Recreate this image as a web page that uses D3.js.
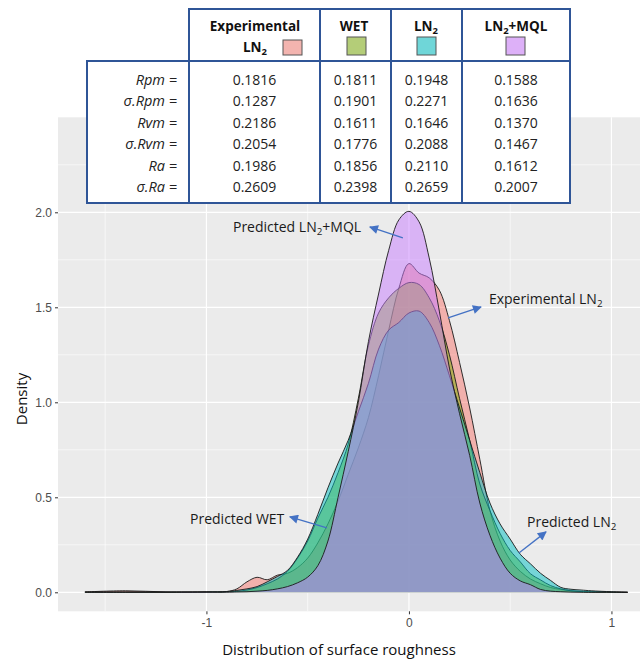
<!DOCTYPE html>
<html>
<head>
<meta charset="utf-8">
<script src="https://cdn.jsdelivr.net/npm/d3@7"></script>
<style>
  body { margin: 0; background: #fff; }
  svg { display: block; font-family: "Open Sans", "Noto Sans", sans-serif; }
</style>
</head>
<body>
<div id="chart"></div>
<script>
// Declare data
const xGrid = [-1.6, -1.4, -1.2, -1.0, -0.9, -0.85, -0.8, -0.75, -0.7, -0.65, -0.6, -0.55, -0.5, -0.45,
  -0.4, -0.35, -0.3, -0.25, -0.2, -0.15, -0.1, -0.05, 0, 0.05, 0.1, 0.15, 0.2, 0.25, 0.3, 0.35,
  0.4, 0.45, 0.5, 0.55, 0.6, 0.65, 0.7, 0.75, 0.8, 0.85, 0.9, 1.0, 1.08];

const expLN2 = [0.002, 0.008, 0.002, 0.002, 0.004, 0.018, 0.055, 0.079, 0.066, 0.09, 0.10, 0.13, 0.18, 0.26,
  0.36, 0.48, 0.62, 0.76, 0.92, 1.14, 1.38, 1.60, 1.73, 1.68, 1.655, 1.59, 1.43, 1.21, 0.97, 0.70,
  0.43, 0.27, 0.17, 0.11, 0.07, 0.045, 0.025, 0.015, 0.008, 0.004, 0.002, 0.001, 0];

const wet = [0.001, 0.001, 0.001, 0.001, 0.002, 0.005, 0.012, 0.025, 0.045, 0.07, 0.11, 0.18, 0.27, 0.39,
  0.50, 0.63, 0.78, 1.02, 1.30, 1.47, 1.55, 1.60, 1.63, 1.62, 1.55, 1.43, 1.25, 1.02, 0.80, 0.57,
  0.43, 0.31, 0.22, 0.16, 0.098, 0.065, 0.035, 0.018, 0.008, 0.004, 0.002, 0.001, 0];

const ln2 = [0.001, 0.001, 0.001, 0.002, 0.004, 0.01, 0.018, 0.03, 0.055, 0.083, 0.115, 0.185, 0.28, 0.41,
  0.55, 0.68, 0.80, 0.95, 1.10, 1.28, 1.38, 1.42, 1.47, 1.48, 1.42, 1.30, 1.14, 0.97, 0.80, 0.63,
  0.47, 0.36, 0.28, 0.20, 0.15, 0.10, 0.062, 0.026, 0.016, 0.012, 0.008, 0.003, 0];

const ln2mql = [0, 0, 0, 0.001, 0.001, 0.002, 0.003, 0.006, 0.01, 0.018, 0.03, 0.05, 0.08, 0.14,
  0.27, 0.50, 0.74, 1.0, 1.32, 1.57, 1.80, 1.96, 2.005, 1.95, 1.76, 1.48, 1.18, 0.94, 0.72, 0.47,
  0.30, 0.18, 0.10, 0.06, 0.04, 0.015, 0.006, 0.003, 0.001, 0, 0, 0, 0];

const seriesValues = [expLN2, wet, ln2, ln2mql];
const seriesColors = ["#F8766D", "#7CAE00", "#00BFC4", "#C77CFF"];
const swatchColors = ["#F3B4AF", "#B4CD78", "#6FD6D8", "#DDB0F8"];

const yTicks = [0, 0.5, 1, 1.5, 2];
const yMinor = [0.25, 0.75, 1.25, 1.75, 2.25];
const xTicks = [-1, 0, 1];
const xMinor = [-1.5, -0.5, 0.5];

// table contents
const rowLabels = ["Rpm =", "σ.Rpm =", "Rvm =", "σ.Rvm =", "Ra =", "σ.Ra ="];
const colExp = ["0.1816", "0.1287", "0.2186", "0.2054", "0.1986", "0.2609"];
const colWet = ["0.1811", "0.1901", "0.1611", "0.1776", "0.1856", "0.2398"];
const colLn2 = ["0.1948", "0.2271", "0.1646", "0.2088", "0.2110", "0.2659"];
const colMql = ["0.1588", "0.1636", "0.1370", "0.1467", "0.1612", "0.2007"];

// Declare the chart dimensions
const width = 640;
const height = 661;
const panelLeft = 58, panelRight = 656, panelTop = 117.3, panelBottom = 611.3;

const x = d3.scaleLinear().domain([-1.733, 1.22]).range([panelLeft, panelRight]);
const y = d3.scaleLinear().domain([-0.1, 2.5]).range([panelBottom, panelTop]);

const svg = d3.select("#chart")
  .append("svg")
    .attr("width", width)
    .attr("height", height)
    .attr("viewBox", [0, 0, width, height]);

svg.append("defs").append("marker")
    .attr("id", "arrow")
    .attr("viewBox", "0 0 10 10")
    .attr("refX", 9).attr("refY", 5)
    .attr("markerWidth", 12).attr("markerHeight", 9)
    .attr("markerUnits", "userSpaceOnUse")
    .attr("orient", "auto")
  .append("path")
    .attr("d", "M0,0L10,5L0,10z")
    .attr("fill", "#4472C4");

// Panel background and grid
svg.append("rect")
    .attr("x", panelLeft).attr("y", panelTop)
    .attr("width", panelRight - panelLeft).attr("height", panelBottom - panelTop)
    .attr("fill", "#EBEBEB");

const grid = svg.append("g").attr("stroke", "#fff");
grid.selectAll(".ymin").data(yMinor).join("line")
    .attr("x1", panelLeft).attr("x2", panelRight)
    .attr("y1", d => y(d)).attr("y2", d => y(d)).attr("stroke-width", 0.6);
grid.selectAll(".xmin").data(xMinor).join("line")
    .attr("y1", panelTop).attr("y2", panelBottom)
    .attr("x1", d => x(d)).attr("x2", d => x(d)).attr("stroke-width", 0.6);
grid.selectAll(".ymaj").data(yTicks).join("line")
    .attr("x1", panelLeft).attr("x2", panelRight)
    .attr("y1", d => y(d)).attr("y2", d => y(d)).attr("stroke-width", 1.2);
grid.selectAll(".xmaj").data(xTicks).join("line")
    .attr("y1", panelTop).attr("y2", panelBottom)
    .attr("x1", d => x(d)).attr("x2", d => x(d)).attr("stroke-width", 1.2);

// Density areas, drawn in factor order with their outlines
const area = d3.area()
    .x((d, i) => x(xGrid[i]))
    .y0(y(0))
    .y1(d => y(d))
    .curve(d3.curveCatmullRom);
const line = area.lineY1();

seriesValues.forEach((vals, k) => {
  svg.append("path")
      .attr("d", area(vals))
      .attr("fill", seriesColors[k])
      .attr("fill-opacity", 0.5);
  svg.append("path")
      .attr("d", line(vals))
      .attr("fill", "none")
      .attr("stroke", "#1a1a1a")
      .attr("stroke-width", 0.9);
});

// Axes
svg.append("g")
    .attr("transform", `translate(${panelLeft},0)`)
    .call(d3.axisLeft(y).tickValues(yTicks).tickFormat(d3.format(".1f")).tickSize(3).tickPadding(3))
    .call(g => g.select(".domain").remove())
    .call(g => g.selectAll("line").attr("stroke", "#333"))
    .call(g => g.selectAll("text").attr("fill", "#4D4D4D").attr("font-size", 12)
        .attr("font-family", "Liberation Sans, Arial, sans-serif"));

svg.append("g")
    .attr("transform", `translate(0,${panelBottom})`)
    .call(d3.axisBottom(x).tickValues(xTicks).tickFormat(d => String(d)).tickSize(3).tickPadding(4))
    .call(g => g.select(".domain").remove())
    .call(g => g.selectAll("line").attr("stroke", "#333"))
    .call(g => g.selectAll("text").attr("fill", "#4D4D4D").attr("font-size", 12)
        .attr("font-family", "Liberation Sans, Arial, sans-serif"));

svg.append("text")
    .attr("transform", "translate(27,399) rotate(-90)")
    .attr("text-anchor", "middle")
    .attr("font-size", 15)
    .attr("fill", "#111")
    .text("Density");

svg.append("text")
    .attr("x", 339).attr("y", 655)
    .attr("text-anchor", "middle")
    .attr("font-size", 15)
    .attr("fill", "#111")
    .text("Distribution of surface roughness");

// Summary table
const tbl = svg.append("g");
const colEdges = [189, 320, 391, 462, 570];
const tTop = 9, tHead = 61, tBottom = 203, tLeft = 87;
const blue = "#2F5597";

tbl.append("rect").attr("x", colEdges[0]).attr("y", tTop)
    .attr("width", colEdges[4] - colEdges[0]).attr("height", tHead - tTop).attr("fill", "#fff");
tbl.append("rect").attr("x", tLeft).attr("y", tHead)
    .attr("width", colEdges[4] - tLeft).attr("height", tBottom - tHead).attr("fill", "#fff");

const border = tbl.append("g").attr("stroke", blue).attr("stroke-width", 2).attr("fill", "none");
border.append("path")
    .attr("d", `M${colEdges[0]},${tHead}V${tTop}H${colEdges[4]}V${tBottom}H${tLeft}V${tHead}H${colEdges[4]}`);
colEdges.slice(0, 4).forEach(cx => {
  border.append("line").attr("x1", cx).attr("x2", cx).attr("y1", tTop).attr("y2", tBottom);
});

// header labels with LN2 subscripts
function ln2Text(sel, before, after) {
  sel.append("tspan").text(before + "LN");
  sel.append("tspan").attr("font-size", "0.7em").attr("dy", 3).text("2");
  if (after) sel.append("tspan").attr("dy", -3).text(after);
}
const head = tbl.append("g").attr("font-size", 13.5).attr("font-weight", "bold").attr("fill", "#111")
    .attr("text-anchor", "middle");
head.append("text").attr("x", 255).attr("y", 31).text("Experimental");
ln2Text(head.append("text").attr("x", 255).attr("y", 52), "", "");
head.append("text").attr("x", 354).attr("y", 31).text("WET");
ln2Text(head.append("text").attr("x", 426).attr("y", 31), "", "");
ln2Text(head.append("text").attr("x", 516).attr("y", 31), "", "+MQL");

const swatchPos = [[283, 40], [347, 37], [417, 37], [506, 37]];
swatchPos.forEach((p, k) => {
  tbl.append("rect")
      .attr("x", p[0]).attr("y", p[1])
      .attr("width", 19).attr("height", k === 0 ? 15 : 18)
      .attr("fill", swatchColors[k])
      .attr("stroke", "#555").attr("stroke-width", 1);
});

const rowY = d3.range(rowLabels.length).map(i => 85 + i * 21.4);
tbl.append("g").attr("font-size", 14.5).attr("font-style", "italic").attr("fill", "#222")
    .attr("text-anchor", "end")
  .selectAll("text").data(rowLabels).join("text")
    .attr("x", 177).attr("y", (d, i) => rowY[i]).text(d => d);

[colExp, colWet, colLn2, colMql].forEach((col, c) => {
  tbl.append("g").attr("font-size", 14).attr("fill", "#222").attr("text-anchor", "middle")
    .selectAll("text").data(col).join("text")
      .attr("x", (colEdges[c] + colEdges[c + 1]) / 2)
      .attr("y", (d, i) => rowY[i]).text(d => d);
});

// Annotations (data coordinates)
const notes = [
  {before: "Predicted ", sub: true, after: "+MQL", tx: -0.869, ty: 1.897, ax: -0.03, ay: 1.866, hx: -0.193, hy: 1.923},
  {before: "Experimental ", sub: true, after: "", tx: 0.395, ty: 1.518, ax: 0.193, ay: 1.444, hx: 0.356, hy: 1.502},
  {before: "Predicted WET", sub: false, after: "", tx: -1.081, ty: 0.36, ax: -0.405, ay: 0.339, hx: -0.588, hy: 0.397},
  {before: "Predicted ", sub: true, after: "", tx: 0.583, ty: 0.344, ax: 0.543, ay: 0.207, hx: 0.677, hy: 0.318}
];
notes.forEach(n => {
  const t = svg.append("text")
      .attr("x", x(n.tx)).attr("y", y(n.ty))
      .attr("font-size", 14).attr("fill", "#1a1a1a");
  if (n.sub) ln2Text(t, n.before, n.after);
  else t.text(n.before);
  svg.append("line")
      .attr("x1", x(n.ax)).attr("y1", y(n.ay))
      .attr("x2", x(n.hx)).attr("y2", y(n.hy))
      .attr("stroke", "#4472C4").attr("stroke-width", 1.3)
      .attr("marker-end", "url(#arrow)");
});
</script>
</body>
</html>
